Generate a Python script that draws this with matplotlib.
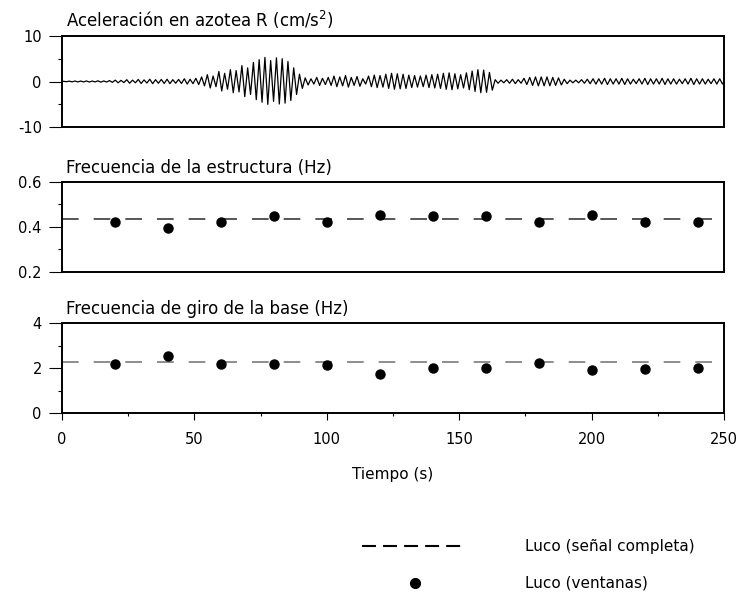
import numpy as np
import matplotlib
matplotlib.use("Agg")
import matplotlib.pyplot as plt
from matplotlib.ticker import MultipleLocator

plt.rcParams['font.family'] = ['DejaVu Sans']

# ---- data ----
# acceleration: amplitude of each oscillation cycle (cm/s2), dominant freq ~0.46 Hz
acc_freq = 0.46
acc_amp = [0.05, 0.08, 0.1, 0.1, 0.12, 0.1, 0.15, 0.12, 0.2,
           0.3, 0.25, 0.4, 0.3, 0.45, 0.35, 0.5, 0.4, 0.45, 0.5, 0.4, 0.45,
           0.6, 0.5, 0.7,
           1.0, 1.5, 1.2,
           2.2, 1.8, 2.6, 2.4,
           3.5, 3.0, 4.2,
           4.8, 5.3, 4.6, 5.2, 5.0,
           4.4,
           3.0, 1.6,
           0.8, 0.6, 0.9, 0.7, 0.9,
           1.2, 1.0, 1.3, 0.9, 1.1,
           0.6,
           1.2, 1.4, 1.3, 1.6,
           1.8, 1.7, 1.6, 1.4, 1.3, 1.2, 1.4, 1.5,
           1.6, 1.8, 1.9, 1.7, 1.5,
           1.9, 2.3, 2.6, 2.5, 2.0,
           0.4, 0.3, 0.4, 0.5, 0.4,
           0.7, 0.9, 1.0, 1.0,
           1.0, 0.9, 0.8, 0.5,
           0.3, 0.3, 0.4,
           0.5, 0.6, 0.6, 0.7, 0.6, 0.6, 0.7, 0.6, 0.5, 0.6, 0.7, 0.6,
           0.6, 0.7, 0.6, 0.6, 0.5, 0.6, 0.7, 0.6, 0.6, 0.5, 0.6, 0.6]

win_t = [20, 40, 60, 80, 100, 120, 140, 160, 180, 200, 220, 240]
f_struct_win = [0.424, 0.394, 0.424, 0.449, 0.424, 0.453, 0.449, 0.449, 0.424, 0.453, 0.424, 0.424]
f_struct_full = 0.436
f_base_win = [2.2, 2.52, 2.2, 2.2, 2.15, 1.72, 2.01, 2.01, 2.21, 1.91, 1.94, 2.01]
f_base_full = 2.27

titles = ["Aceleración en azotea R (cm/s$^2$)",
          "Frecuencia de la estructura (Hz)",
          "Frecuencia de giro de la base (Hz)"]
xlabel = "Tiempo (s)"
legend_labels = ["Luco (señal completa)", "Luco (ventanas)"]

# ---- build acceleration polyline from extrema ----
T = 1.0 / acc_freq
t_acc = [0.0]
a_acc = [0.0]
for i, a in enumerate(acc_amp):
    t_acc += [(i + 0.25) * T, (i + 0.75) * T]
    a_acc += [a, -a * 0.95]
t_acc = np.array(t_acc)
a_acc = np.array(a_acc)
keep = t_acc <= 250
t_acc = np.append(t_acc[keep], 250.0)
a_acc = np.append(a_acc[keep], 0.0)

W, H = 739, 598
fig = plt.figure(figsize=(W / 100, H / 100), dpi=100)

def fx(px):
    return px / W

def fy(py):
    return 1 - py / H

left, right = 62, 724
boxes = [(36, 127), (182, 272), (323, 413)]
axes = []
for (top, bot) in boxes:
    ax = fig.add_axes([fx(left), fy(bot), fx(right - left), (bot - top) / H])
    axes.append(ax)

fs_tick = 10.5
fs_title = 12

for ax in axes:
    ax.set_xlim(0, 250)
    for s in ax.spines.values():
        s.set_linewidth(1.4)
    ax.tick_params(axis='y', which='major', direction='out', length=9.5, width=0.8,
                   labelsize=fs_tick, pad=5, colors='black')
    ax.tick_params(axis='y', which='minor', direction='out', length=3, width=0.8)
    ax.xaxis.set_major_locator(MultipleLocator(50))
    ax.xaxis.set_minor_locator(MultipleLocator(25))

for ax in axes[:2]:
    ax.tick_params(axis='x', which='both', bottom=False, labelbottom=False)

axes[2].tick_params(axis='x', which='major', direction='out', length=5, width=0.8,
                    labelsize=fs_tick, pad=9)
axes[2].tick_params(axis='x', which='minor', direction='out', length=2.5, width=0.8)

# panel 1
ax = axes[0]
ax.plot(t_acc, a_acc, color='black', lw=0.9)
ax.set_ylim(-10, 10)
ax.set_yticks([-10, 0, 10])
ax.set_yticklabels(['-10', '0', '10'])
ax.yaxis.set_minor_locator(MultipleLocator(5))

# panel 2
ax = axes[1]
ax.axhline(f_struct_full, color='#3a3a3a', lw=1.2, dashes=(10, 9))
ax.plot(win_t, f_struct_win, 'o', color='black', ms=6.5, zorder=3)
ax.set_ylim(0.2, 0.6)
ax.set_yticks([0.2, 0.4, 0.6])
ax.set_yticklabels(['0.2', '0.4', '0.6'])
ax.yaxis.set_minor_locator(MultipleLocator(0.1))

# panel 3
ax = axes[2]
ax.axhline(f_base_full, color='#7a7a7a', lw=1.2, dashes=(10, 9))
ax.plot(win_t, f_base_win, 'o', color='black', ms=6.5, zorder=3)
ax.set_ylim(0, 4)
ax.set_yticks([0, 2, 4])
ax.yaxis.set_minor_locator(MultipleLocator(1))

# titles
for (top, bot), ttl in zip(boxes, titles):
    fig.text(fx(66), fy(top - 9), ttl, fontsize=fs_title, ha='left', va='baseline')

fig.text(fx(393), fy(474), xlabel, fontsize=fs_tick + 0.5, ha='center', va='center')

# legend (drawn manually in figure coordinates)
fig.add_artist(plt.Line2D([fx(362), fx(462)], [fy(546), fy(546)], color='black',
                          lw=1.5, dashes=(6.7, 3.4), transform=fig.transFigure))
fig.add_artist(plt.Line2D([fx(415)], [fy(583)], marker='o', color='black', ms=7,
                          transform=fig.transFigure))
fig.text(fx(525), fy(546), legend_labels[0], fontsize=fs_tick + 0.5, ha='left', va='center')
fig.text(fx(525), fy(583), legend_labels[1], fontsize=fs_tick + 0.5, ha='left', va='center')

fig.savefig('out.png', dpi=100)
